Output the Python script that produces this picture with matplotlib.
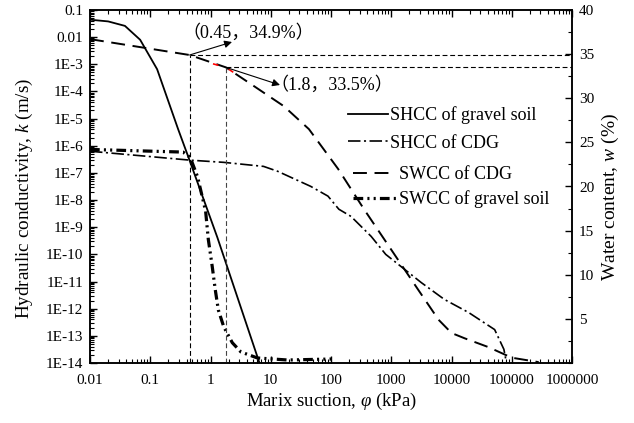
import matplotlib
matplotlib.use("Agg")
import matplotlib.pyplot as plt
from matplotlib.ticker import FixedLocator, FixedFormatter, LogLocator, NullFormatter, MultipleLocator

# --- data ---
# SHCC of gravel soil: suction (kPa) vs hydraulic conductivity (m/s)
suction_shcc_gravel = [0.01, 0.02, 0.038, 0.068, 0.13, 0.29, 0.43, 1.3, 6.5]
k_shcc_gravel = [0.044, 0.038, 0.026, 0.008, 6.6e-4, 4.1e-6, 3.8e-7, 4.2e-10, 1e-14]

# SHCC of CDG
suction_shcc_cdg = [0.01, 0.46, 1.66, 7.6, 13, 46, 89, 135, 215, 464, 810, 1470,
                    3160, 7600, 19300, 52000, 74000, 80000]
k_shcc_cdg = [6.3e-7, 2.95e-7, 2.45e-7, 1.74e-7, 1.15e-7, 3.2e-8, 1.4e-8, 4.6e-9,
              2.5e-9, 4.6e-10, 1e-10, 3.5e-11, 9.1e-12, 2.2e-12, 7.2e-13, 1.7e-13,
              3.2e-14, 1.3e-14]

# SWCC of CDG: suction (kPa) vs water content (%)
suction_swcc_cdg = [0.01, 0.45, 1.8, 5.2, 16.5, 43, 131, 355, 1080, 2800, 6100,
                    10000, 16500, 41000, 100000, 280000]
w_swcc_cdg = [36.7, 34.9, 33.5, 31.4, 29.1, 26.5, 22.0, 17.4, 12.5, 8.3, 4.9,
              3.4, 2.8, 1.8, 0.6, 0.1]

# short red piece of the CDG SWCC around the marked point
suction_red = [1.1, 1.8, 3.0]
w_red = [33.9, 33.5, 32.5]

# SWCC of gravel soil
suction_swcc_gravel = [0.01, 0.35, 0.46, 0.61, 0.83, 0.92, 1.07, 1.2, 1.35, 1.66,
                       2.3, 3.2, 6.0, 19, 100]
w_swcc_gravel = [24.2, 23.9, 23.3, 21.1, 17.2, 14.0, 10.9, 8.3, 6.0, 4.1,
                 2.3, 1.25, 0.57, 0.34, 0.45]

# marked points
pt1 = (0.45, 34.9)
pt2 = (1.8, 33.5)

x_ticks = [0.01, 0.1, 1, 10, 100, 1000, 10000, 100000, 1000000]
x_labels = ["0.01", "0.1", "1", "10", "100", "1000", "10000", "100000", "1000000"]
y_ticks = [10.0 ** e for e in range(-14, 0)]
y_labels = ["1E-14", "1E-13", "1E-12", "1E-11", "1E-10", "1E-9", "1E-8", "1E-7",
            "1E-6", "1E-5", "1E-4", "1E-3", "0.01", "0.1"]
w_ticks = [5, 10, 15, 20, 25, 30, 35, 40]

plt.rcParams['font.family'] = ['Liberation Serif', 'Noto Sans CJK SC']
plt.rcParams['mathtext.fontset'] = 'custom'
plt.rcParams['mathtext.rm'] = 'Liberation Serif'
plt.rcParams['mathtext.it'] = 'Liberation Serif:italic'
plt.rcParams['lines.scale_dashes'] = False

fig = plt.figure(figsize=(6.34, 4.23), dpi=100)
ax = fig.add_axes([90 / 634, 1 - 363 / 423, (572 - 90) / 634, (363 - 10) / 423])
ax2 = ax.twinx()

ax.set_xscale('log')
ax.set_yscale('log')
ax.set_xlim(0.01, 1e6)
ax.set_ylim(1e-14, 0.1)
ax2.set_ylim(0, 40)

l1, = ax.plot(suction_shcc_gravel, k_shcc_gravel, color='black', lw=1.3,
              label='SHCC of gravel soil')
l2, = ax.plot(suction_shcc_cdg, k_shcc_cdg, color='black', lw=1.2,
              dashes=(9, 2.5, 1.5, 2.5), label='SHCC of CDG')
l3, = ax2.plot(suction_swcc_cdg, w_swcc_cdg, color='black', lw=1.4,
               dashes=(10, 5.5), label='SWCC of CDG')
ax2.plot(suction_red, w_red, color='red', lw=1.2, dashes=(4, 8))
l4, = ax2.plot(suction_swcc_gravel, w_swcc_gravel, color='black', lw=2.3,
               dashes=(7, 3, 1.5, 3, 1.5, 3), label='SWCC of gravel soil')

# guide lines to the marked points
for (px, py), c in [(pt1, 'black'), (pt2, '#444444')]:
    ax2.plot([px, px], [0, py], color=c, lw=0.8, dashes=(3.5, 2))
    ax2.plot([px, 1e6], [py, py], color='black', lw=0.8, dashes=(3.5, 2))

arrow = dict(arrowstyle='-|>', color='black', lw=0.8, mutation_scale=11,
             shrinkA=0, shrinkB=0)
ax2.annotate('', xy=(232, 423 - 42), xycoords='figure pixels',
             xytext=pt1, textcoords='data', arrowprops=arrow)
ax2.annotate('', xy=(280, 423 - 85), xycoords='figure pixels',
             xytext=pt2, textcoords='data', arrowprops=arrow)
fig.text(182 / 634, 1 - 33 / 423, '（0.45，34.9%）', fontsize=13,
         ha='left', va='center')
fig.text(270 / 634, 1 - 85 / 423, '（1.8，33.5%）', fontsize=13,
         ha='left', va='center')

# ticks
ax.xaxis.set_major_locator(FixedLocator(x_ticks))
ax.xaxis.set_major_formatter(FixedFormatter(x_labels))
ax.xaxis.set_minor_locator(LogLocator(base=10, subs=range(2, 10), numticks=100))
ax.xaxis.set_minor_formatter(NullFormatter())
ax.yaxis.set_major_locator(FixedLocator(y_ticks))
ax.yaxis.set_major_formatter(FixedFormatter(y_labels))
ax.yaxis.set_minor_locator(LogLocator(base=10, subs=range(2, 10), numticks=100))
ax.yaxis.set_minor_formatter(NullFormatter())
ax2.yaxis.set_major_locator(FixedLocator(w_ticks))
ax2.yaxis.set_minor_locator(MultipleLocator(2.5))

ax.tick_params(which='both', direction='in', top=True, right=False, labelsize=11)
ax.tick_params(axis='x', which='major', pad=8)
ax.tick_params(axis='y', which='major', pad=5)
ax.tick_params(which='major', length=5, width=1)
ax.tick_params(which='minor', length=3, width=0.8)
ax2.tick_params(which='both', direction='in', labelsize=11)
ax2.tick_params(which='major', length=5, width=1, pad=5)
ax2.tick_params(which='minor', length=3, width=0.8)
for a in (ax, ax2):
    for s in a.spines.values():
        s.set_linewidth(1.1)

ax.set_xlabel(r'Marix suction, $\varphi$ (kPa)', fontsize=13.5, labelpad=3)
ax.set_ylabel(r'Hydraulic conductivity, $k$ (m/s)', fontsize=13.8)
ax2.set_ylabel(r'Water content, $w$ (%)', fontsize=14)
ax.yaxis.set_label_coords(-0.115, 0.467)
ax2.yaxis.set_label_coords(1.058, 0.47)

ax.legend(handles=[l1, l2], loc='upper left',
          bbox_to_anchor=(348 / 634, 1 - 106 / 423), bbox_transform=fig.transFigure,
          frameon=False, fontsize=13, handlelength=2.2, handletextpad=0.15,
          labelspacing=0.6, borderpad=0, borderaxespad=0)
ax2.legend(handles=[l3, l4], loc='upper left',
           bbox_to_anchor=(353 / 634, 1 - 166 / 423), bbox_transform=fig.transFigure,
           frameon=False, fontsize=13, handlelength=2.4, handletextpad=0.15,
           labelspacing=0.42, borderpad=0, borderaxespad=0)

fig.savefig('out.png', dpi=100)
